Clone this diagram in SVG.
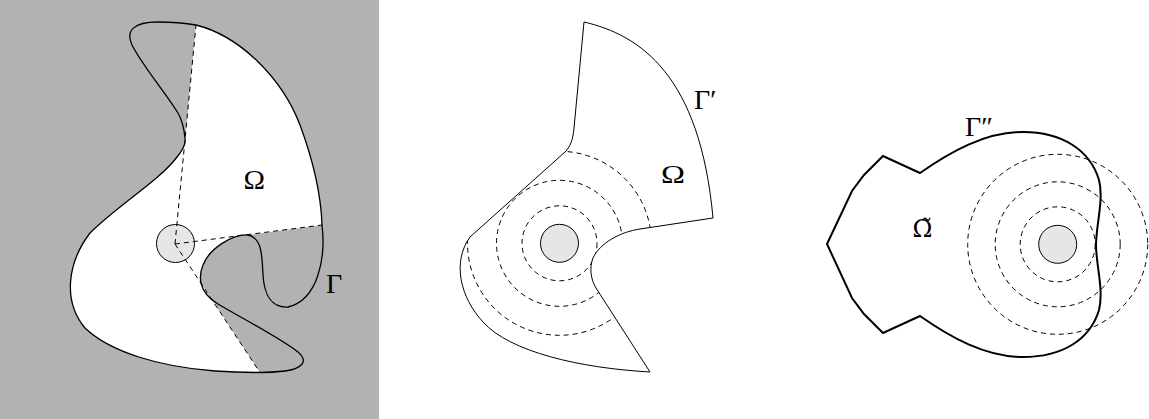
<svg xmlns="http://www.w3.org/2000/svg" width="1149" height="419" viewBox="0 0 1149 419">
<style>
.lbl{font-family:"Liberation Serif","DejaVu Serif",serif;font-size:28px;fill:#000}
.om{font-size:26px}
.omt{font-family:"DejaVu Serif",serif;font-size:24px;fill:#000}
.dash{fill:none;stroke:#000;stroke-width:1;stroke-dasharray:5 4}
.disk{fill:#e6e6e6;stroke:#000;stroke-width:1}
.edge{fill:none;stroke:#000}
</style>
<defs>
<clipPath id="dom2">
<path d="M584,22 C640,35 700,75 713,218 L640,229 C620,232 600,243 593,258 C589,268 591,280 596,288 L650,372 C580,368 510,352 483,322 C460,297 452,262 470,237 L565,152 C570,147 573,140 574,128 Z"/>
</clipPath>
</defs>
<rect width="1149" height="419" fill="#fff"/>
<g id="panel1">
<rect x="0" y="0" width="379" height="419" fill="#b2b2b2"/>
<path id="omega1-visible" fill="#fff" d="M175,244 L196,25 C240,36 282,78 300,125 C313,160 321,195 322,225 L248,235 C232,234 209,249 203,265 C200,272 200,278 201,283 L260,372.5 C245,372.5 230,372 215,371 C160,367 110,352 85,328 C62,300 68,262 90,233 C118,205 160,180 177,157 C183,150 186,144 185,138 Z"/>
<path id="gamma1" class="edge" stroke-width="1.3" d="M196,25 C240,36 282,78 300,125 C313,160 321,195 322,225 C326,258 318,300 288,307 C268,308 264,290 263,275 C262,255 262,238 248,235 C232,234 209,249 203,265 C200,272 200,278 201,283 C203,292 208,298 218,304 C245,320 280,338 298,352 C310,362 300,369 285,371 C276,372 268,372.5 260,372.5 C245,372.5 230,372 215,371 C160,367 110,352 85,328 C62,300 68,262 90,233 C118,205 160,180 177,157 C183,150 186,144 185,138 C184,128 182,120 178,113 C165,92 142,65 132,45 C125,30 135,22 157,22 C172,22 185,23 196,25 Z"/>
<g id="disk1"><circle class="disk" cx="175.5" cy="243.5" r="19"/></g>
<g id="rays1">
<path class="dash" d="M175,244 L196,25 M175,244 L322,225 M175,244 L260,372.5"/>
</g>
<text class="lbl" x="243.5" y="189" textLength="21.5" lengthAdjust="spacingAndGlyphs">Ω</text>
<text class="lbl" x="326" y="292.5">Γ</text>
</g>
<g id="panel2">
<path id="gamma2" class="edge" stroke-width="1" d="M584,22 C640,35 700,75 713,218 L640,229 C620,232 600,243 593,258 C589,268 591,280 596,288 L650,372 C580,368 510,352 483,322 C460,297 452,262 470,237 L565,152 C570,147 573,140 574,128 Z"/>
<g id="levels2" clip-path="url(#dom2)">
<circle class="dash" cx="559.5" cy="243.3" r="37.5"/>
<circle class="dash" cx="559.5" cy="243.3" r="63"/>
<circle class="dash" cx="559.5" cy="243.3" r="92"/>
</g>
<g id="disk2"><circle class="disk" cx="559.5" cy="243.3" r="19"/></g>
<text class="lbl om" x="661" y="183" textLength="24" lengthAdjust="spacingAndGlyphs">Ω</text>
<text class="lbl" x="694" y="109">Γ′</text>
</g>
<g id="panel3">
<path id="gamma3" class="edge" stroke-width="2" d="M827,244 L852,191 L864,175 L883,156 L920,173 C950,152 985,132 1023,132 C1062,132 1090,150 1099,180 C1104,200 1096,225 1096,245 C1096,265 1104,290 1099,310 C1090,340 1062,357 1023,357 C985,357 950,337 920,316 L883,333 L864,314 L852,298 Z"/>
<g id="levels3">
<circle class="dash" cx="1057.7" cy="244.3" r="37.5"/>
<circle class="dash" cx="1057.7" cy="244.3" r="62.5"/>
<circle class="dash" cx="1057.7" cy="244.3" r="90"/>
</g>
<g id="disk3"><circle class="disk" cx="1057.7" cy="244.3" r="19"/></g>
<text class="omt" x="922.5" y="237.3" text-anchor="middle">Ω̃</text>
<text class="lbl" x="965" y="136">Γ″</text>
</g>
</svg>
